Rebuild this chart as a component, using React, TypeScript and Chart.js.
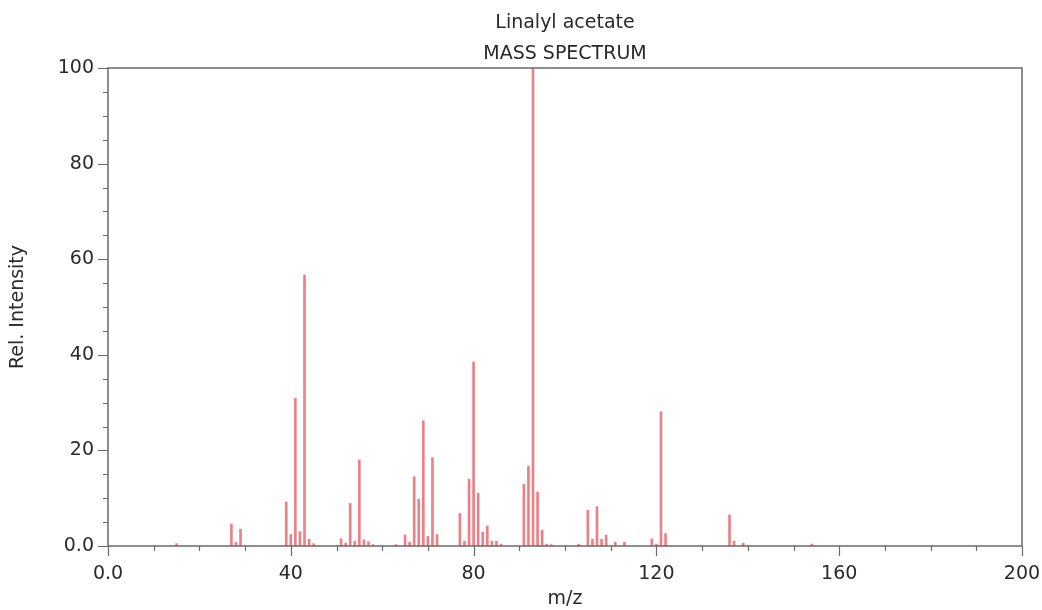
import React, { useEffect, useRef } from "react";
import { Chart, registerables } from "chart.js";

Chart.register(...registerables);

const TITLE = "Linalyl acetate";
const SUBTITLE = "MASS SPECTRUM";
const X_LABEL = "m/z";
const Y_LABEL = "Rel. Intensity";

const mzValues = [
  15, 27, 28, 29, 39, 40, 41, 42, 43, 44, 45, 51, 52, 53, 54, 55, 56, 57, 58, 63,
  65, 66, 67, 68, 69, 70, 71, 72, 77, 78, 79, 80, 81, 82, 83, 84, 85, 86, 91, 92,
  93, 94, 95, 96, 97, 103, 105, 106, 107, 108, 109, 111, 113, 119, 120, 121, 122,
  136, 137, 139, 154,
];
const intensities = [
  0.5, 4.6, 0.8, 3.5, 9.2, 2.4, 30.9, 3.0, 56.7, 1.4, 0.5, 1.5, 0.6, 8.9, 1.0, 18.0, 1.3, 0.9, 0.3, 0.3,
  2.3, 0.8, 14.5, 9.8, 26.2, 2.0, 18.5, 2.4, 6.8, 1.0, 14.0, 38.5, 11.0, 2.9, 4.2, 1.0, 1.0, 0.4, 12.9, 16.7,
  100, 11.3, 3.3, 0.4, 0.3, 0.4, 7.5, 1.4, 8.2, 1.4, 2.3, 0.8, 0.8, 1.5, 0.4, 28.1, 2.6,
  6.5, 1.0, 0.6, 0.4,
];

const X_MIN = 0;
const X_MAX = 200;
const X_STEP = 10;
const X_MAJOR = 40;
const Y_MIN = 0;
const Y_MAX = 100;
const Y_STEP = 5;
const Y_MAJOR = 20;

const FONT = '"DejaVu Sans", sans-serif';
const TEXT_COLOR = "#2a2a2a";
const AXIS_COLOR = "#6a6a6a";
const BAR_COLOR = "rgb(236, 128, 134)";

const fmt = (v: number) => (v === 0 ? "0.0" : String(v));

const decorPlugin = {
  id: "decor",
  afterDraw(chart: any) {
    const { ctx, chartArea: a, scales } = chart;
    const x = scales.x;
    const y = scales.y;
    ctx.save();
    ctx.strokeStyle = AXIS_COLOR;
    ctx.lineWidth = 1.5;
    ctx.strokeRect(a.left, a.top, a.right - a.left, a.bottom - a.top);
    ctx.lineWidth = 1.2;
    ctx.beginPath();
    x.ticks.forEach((t: any) => {
      const px = Math.round(x.getPixelForValue(t.value)) + 0.5;
      const major = t.value % X_MAJOR === 0;
      ctx.moveTo(px, a.bottom);
      ctx.lineTo(px, a.bottom + (major ? 10 : 5));
    });
    y.ticks.forEach((t: any) => {
      const py = Math.round(y.getPixelForValue(t.value)) + 0.5;
      const major = t.value % Y_MAJOR === 0;
      ctx.moveTo(a.left, py);
      ctx.lineTo(a.left - (major ? 10 : 5), py);
    });
    ctx.stroke();
    ctx.fillStyle = TEXT_COLOR;
    ctx.font = `19px ${FONT}`;
    ctx.textAlign = "center";
    ctx.textBaseline = "alphabetic";
    const cx = (a.left + a.right) / 2;
    ctx.fillText(TITLE, cx, 28);
    ctx.fillText(SUBTITLE, cx, 59);
    ctx.restore();
  },
};

export default function App() {
  const ref = useRef<HTMLCanvasElement>(null);
  useEffect(() => {
    if (!ref.current) return;
    const data = mzValues.map((m, i) => ({ x: m, y: intensities[i] }));
    const chart = new Chart(ref.current, {
      type: "bar",
      data: {
        datasets: [
          {
            data: data as any,
            backgroundColor: BAR_COLOR,
            borderWidth: 0,
            barThickness: 2,
          },
        ],
      },
      options: {
        animation: false,
        responsive: false,
        layout: { padding: { top: 68, right: 20, left: 0, bottom: 0 } },
        plugins: { legend: { display: false }, tooltip: { enabled: false }, title: { display: false } },
        scales: {
          x: {
            type: "linear",
            offset: false,
            min: X_MIN,
            max: X_MAX,
            grid: { display: false, offset: false },
            border: { display: false },
            ticks: {
              stepSize: X_STEP,
              autoSkip: false,
              maxRotation: 0,
              padding: 9,
              color: TEXT_COLOR,
              font: { family: FONT, size: 19 },
              callback: (v: any) => (Number(v) % X_MAJOR === 0 ? fmt(Number(v)) : ""),
            },
            title: {
              display: true,
              text: X_LABEL,
              color: TEXT_COLOR,
              font: { family: FONT, size: 19 },
              padding: { top: 0, bottom: 0 },
            },
            afterFit: (s: any) => {
              s.height = 64;
              s.paddingLeft = 0;
              s.paddingRight = 0;
            },
          },
          y: {
            min: Y_MIN,
            max: Y_MAX,
            grid: { display: false },
            border: { display: false },
            ticks: {
              stepSize: Y_STEP,
              autoSkip: false,
              padding: 6,
              color: TEXT_COLOR,
              font: { family: FONT, size: 19 },
              callback: (v: any) => (Number(v) % Y_MAJOR === 0 ? fmt(Number(v)) : ""),
            },
            title: {
              display: true,
              text: Y_LABEL,
              color: TEXT_COLOR,
              font: { family: FONT, size: 19 },
              padding: { top: 7, bottom: 0 },
            },
            afterFit: (s: any) => {
              s.width = 108;
              s.paddingTop = 0;
              s.paddingBottom = 0;
            },
          },
        },
      },
      plugins: [decorPlugin],
    });
    return () => chart.destroy();
  }, []);
  return (
    <div style={{ position: "fixed", left: 0, top: 0, width: 1042, height: 610, background: "#fff" }}>
      <canvas ref={ref} width={1042} height={610} />
    </div>
  );
}
